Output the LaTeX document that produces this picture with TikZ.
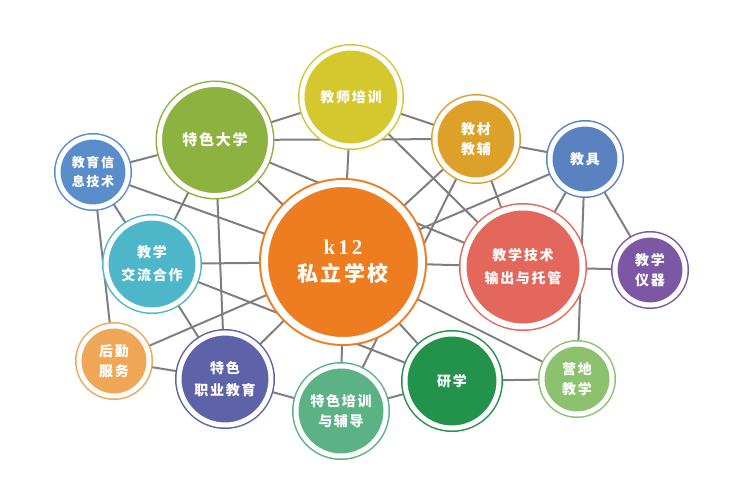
\documentclass[tikz,border=0pt]{standalone}
\usepackage{fontspec}
\usepackage{tikz}
\usepackage{xcolor}
\usetikzlibrary{backgrounds}

\newfontfamily\cjk[LetterSpace=12]{Noto Sans CJK SC}
\newfontfamily\latin[LetterSpace=15]{Liberation Serif}

\definecolor{cSchool}{HTML}{EE7D21}
\definecolor{cDaxue}{HTML}{8DB23F}
\definecolor{cPeixun}{HTML}{D5C72E}
\definecolor{cJiaocai}{HTML}{DDA12A}
\definecolor{cJiaoju}{HTML}{5B82C0}
\definecolor{cXinxi}{HTML}{5A8ECB}
\definecolor{cJiaoliu}{HTML}{4DB6C8}
\definecolor{cJishu}{HTML}{E4675C}
\definecolor{cYiqi}{HTML}{7C58A4}
\definecolor{cHouqin}{HTML}{EFA656}
\definecolor{cZhiye}{HTML}{5E63A9}
\definecolor{cFudao}{HTML}{5BB285}
\definecolor{cYanxue}{HTML}{23924A}
\definecolor{cYingdi}{HTML}{8CC26E}
\definecolor{cLink}{HTML}{7F7F7F}

\begin{document}
\begin{tikzpicture}[x=1pt, y=-1pt,
    bubble/.style={circle, inner sep=0pt, fill=#1, draw=#1, double=white,
                   double distance=5pt, line width=1.5pt, text=white, align=center,
                   font=\cjk\bfseries\fontsize{14}{20}\selectfont},
    link/.style={draw=cLink, line width=2pt}]
                    \useasboundingbox (0,0) rectangle (741,500);

                    \node[bubble=cSchool, minimum size=157pt, double distance=7pt, line width=2pt,
                          font=\cjk\bfseries\fontsize{21}{27}\selectfont] (school) at (343,262)
                          {{\latin\bfseries k12}\\私立学校};
                    \node[bubble=cDaxue, minimum size=111pt, font=\cjk\bfseries\fontsize{15}{20}\selectfont] (daxue) at (215,140) {特色大学};
                    \node[bubble=cPeixun, minimum size=98pt] (peixun) at (351,97) {教师培训};
                    \node[bubble=cJiaocai, minimum size=82pt] (jiaocai) at (476,139) {教材\\教辅};
                    \node[bubble=cJiaoju, minimum size=70pt] (jiaoju) at (585,159) {教具};
                    \node[bubble=cXinxi, minimum size=70pt, font=\cjk\bfseries\fontsize{13}{19}\selectfont] (xinxi) at (93,172) {教育信\\息技术};
                    \node[bubble=cJiaoliu, minimum size=92pt, font=\cjk\bfseries\fontsize{14}{23}\selectfont] (jiaoliu) at (152,264) {教学\\交流合作};
                    \node[bubble=cJishu, minimum size=119pt, double distance=6pt, font=\cjk\bfseries\fontsize{14}{23}\selectfont] (jishu) at (523,267) {教学技术\\输出与托管};
                    \node[bubble=cYiqi, minimum size=70pt] (yiqi) at (650,270) {教学\\仪器};
                    \node[bubble=cHouqin, minimum size=70pt] (houqin) at (114,361) {后勤\\服务};
                    \node[bubble=cZhiye, minimum size=92pt, font=\cjk\bfseries\fontsize{14}{22}\selectfont] (zhiye) at (225,379) {特色\\职业教育};
                    \node[bubble=cFudao, minimum size=90pt] (fudao) at (341,411) {特色培训\\与辅导};
                    \node[bubble=cYanxue, minimum size=94pt] (yanxue) at (452,381) {研学};
                    \node[bubble=cYingdi, minimum size=70pt] (yingdi) at (577,379) {营地\\教学};

                    \begin{scope}[on background layer]
                    \draw[link] (xinxi) -- (daxue);
                    \draw[link] (xinxi) -- (school);
                    \draw[link] (xinxi) -- (jiaoliu);
                    \draw[link] (xinxi) -- (houqin);
                    \draw[link] (daxue) -- (peixun);
                    \draw[link] (daxue) -- (jiaocai);
                    \draw[link] (daxue) -- (school);
                    \draw[link] (daxue) -- (jishu);
                    \draw[link] (daxue) -- (jiaoliu);
                    \draw[link] (daxue) -- (zhiye);
                    \draw[link] (peixun) -- (school);
                    \draw[link] (peixun) -- (jiaocai);
                    \draw[link] (peixun) -- (jishu);
                    \draw[link] (jiaocai) -- (school);
                    \draw[link] (jiaocai) -- (jiaoju);
                    \draw[link] (jiaocai) -- (jishu);
                    \draw[link] (jiaocai) -- (fudao);
                    \draw[link] (jiaoju) -- (school);
                    \draw[link] (jiaoju) -- (jishu);
                    \draw[link] (jiaoju) -- (yiqi);
                    \draw[link] (jiaoju) -- (yingdi);
                    \draw[link] (jishu) -- (school);
                    \draw[link] (jishu) -- (yiqi);
                    \draw[link] (school) -- (yingdi);
                    \draw[link] (school) -- (yanxue);
                    \draw[link] (school) -- (fudao);
                    \draw[link] (school) -- (zhiye);
                    \draw[link] (school) -- (houqin);
                    \draw[link] (school) -- (jiaoliu);
                    \draw[link] (jiaoliu) -- (zhiye);
                    \draw[link] (jiaoliu) -- (yanxue);
                    \draw[link] (houqin) -- (zhiye);
                    \draw[link] (zhiye) -- (fudao);
                    \draw[link] (fudao) -- (yanxue);
                    \draw[link] (yanxue) -- (yingdi);
                    \end{scope}
                \end{tikzpicture}
\end{document}
